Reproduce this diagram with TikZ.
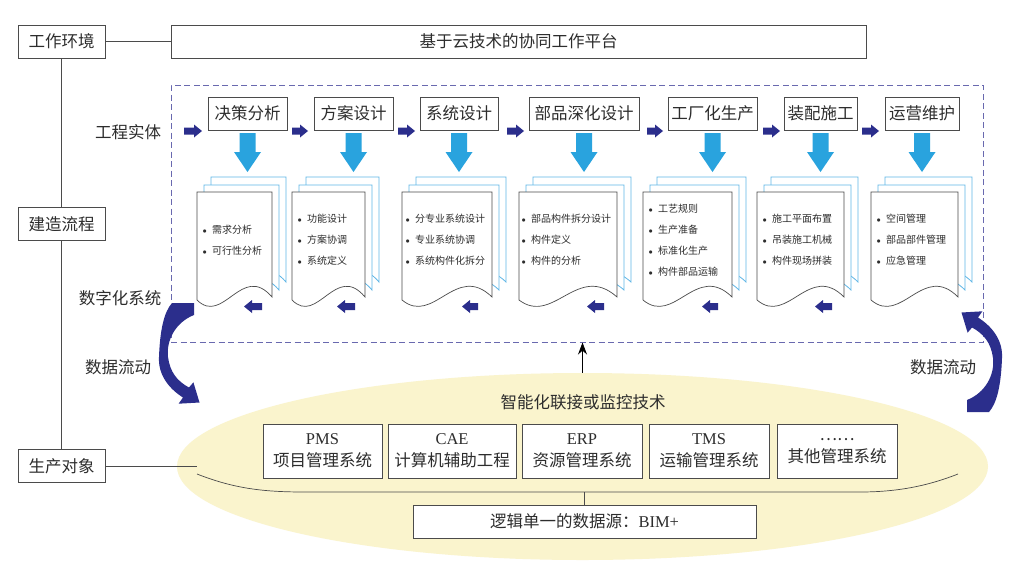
\documentclass[tikz,border=0pt]{standalone}
\usepackage{fontspec}
\setmainfont{Liberation Serif}
\newfontfamily\cjk{Noto Sans CJK SC}
\usetikzlibrary{arrows.meta,shapes.geometric}
\definecolor{navy}{RGB}{43,46,140}
\definecolor{lblue}{RGB}{41,163,222}
\definecolor{pblue}{RGB}{95,182,230}
\definecolor{dashc}{RGB}{105,105,175}
\definecolor{ylw}{RGB}{250,244,205}
\definecolor{txt}{RGB}{45,45,45}
\definecolor{edge}{RGB}{75,75,75}
\newcommand{\mybul}{\makebox[11pt][l]{\hspace{1.5pt}{\fontsize{8}{8}\selectfont$\bullet$}}}
\newcommand{\mydoc}[2]{%
  \foreach \dx/\dy/\st in {14/-15/backpage, 7/-7/backpage, 0/0/frontpage}{%
    \path[\st, shift={(\dx,\dy)}] (#1,192) -- (#2,192) -- (#2,297)
      .. controls ({#1+0.6*(#2-#1)},262) and ({#1+0.35*(#2-#1)},326) .. (#1,300) -- cycle;
  }}
\newcommand{\myrarr}[2]{%
  \fill[navy] (#1,127.5) -- ({#2-8},127.5) -- ({#2-8},124.5) -- (#2,131) -- ({#2-8},137.5) -- ({#2-8},134.5) -- (#1,134.5) -- cycle;}
\newcommand{\mylarr}[2]{%
  \fill[navy] (#1,306.5) -- ({#1+8},300) -- ({#1+8},303) -- (#2,303) -- (#2,310) -- ({#1+8},310) -- ({#1+8},313) -- cycle;}
\newcommand{\mydarr}[1]{%
  \fill[lblue] ({#1-8},133) -- ({#1+8},133) -- ({#1+8},152) -- ({#1+13.5},152) -- (#1,172) -- ({#1-13.5},152) -- ({#1-8},152) -- cycle;}
\newcommand{\mycurv}{%
  \fill[navy] (172,303) -- (194,303) -- (194,315)
  .. controls (176,322) and (166,340) .. (168,357)
  .. controls (170,372) and (177,381) .. (189,387.5)
  -- (193.4,382.3) -- (199.5,402.5) -- (178.6,403.7) -- (183,397.5)
  .. controls (168,388) and (158,374) .. (159,357)
  .. controls (160,330) and (164,312) .. (172,303) -- cycle;}
\begin{document}
\begin{tikzpicture}[x=1pt,y=-1pt,
  every node/.style={text=txt},
  box/.style={draw=edge, line width=0.8pt, fill=white, minimum height=33pt, inner sep=0pt, font=\fontsize{16.5}{18}\selectfont\cjk},
  sysbox/.style={draw=edge, line width=0.8pt, fill=white, minimum height=54pt, inner sep=0pt, align=center, font=\fontsize{16.5}{22}\selectfont},
  lbl/.style={font=\fontsize{16.5}{18}\selectfont\cjk, inner sep=0pt},
  lst/.style={font=\fontsize{10}{21}\selectfont\cjk, align=left, inner sep=0pt, anchor=west},
  backpage/.style={draw=pblue, line width=0.8pt, fill=white},
  frontpage/.style={draw=edge, line width=0.7pt, fill=white},
  lnk/.style={draw=edge, line width=0.8pt},
]
\useasboundingbox[fill=white] (0,0) rectangle (1024,576);

% ellipse of production objects
\node[ellipse, fill=ylw, minimum width=811pt, minimum height=187pt, inner sep=0pt] (obj) at (582.5,466.5) {};

% left column
\draw[lnk] (61.5,41.5) -- (61.5,466);
\node[box, minimum width=87pt] (env) at (61.5,41.5) {工作环境};
\node[box, minimum width=695pt] (plat) at (518.5,41.5) {基于云技术的协同工作平台};
\draw[lnk] (env.east) -- (plat.west);
\node[box, minimum width=87pt] (build) at (61.5,224) {建造流程};
\node[box, minimum width=87pt] (prod) at (61.5,466) {生产对象};
\coordinate (pe) at (197,466);
\draw[lnk] (prod.east) -- (pe);

% dashed digital system frame
\node[draw=dashc, dash pattern=on 6pt off 3.5pt, line width=1pt, minimum width=812pt, minimum height=257pt, inner sep=0pt] (digi) at (577,213.5) {};

% stages
\node[box, minimum width=79pt] (s1) at (247.5,113.5) {决策分析};
\node[box, minimum width=79pt] (s2) at (353.5,113.5) {方案设计};
\node[box, minimum width=78pt] (s3) at (459,113.5) {系统设计};
\node[box, minimum width=110pt] (s4) at (584,113.5) {部品深化设计};
\node[box, minimum width=89pt] (s5) at (712.5,113.5) {工厂化生产};
\node[box, minimum width=73pt] (s6) at (820.5,113.5) {装配施工};
\node[box, minimum width=74pt] (s7) at (922,113.5) {运营维护};
\node[lbl] (eng) at (128,132) {工程实体};

\myrarr{184}{202}\myrarr{292}{308}\myrarr{398}{415}\myrarr{507}{524}
\myrarr{647}{663}\myrarr{763}{780}\myrarr{862}{879}

\mydarr{247.5}\mydarr{353.5}\mydarr{459}\mydarr{584}\mydarr{712.5}\mydarr{820.5}\mydarr{922}

% documents
\mydoc{197}{272}\mydoc{292}{365}\mydoc{402}{492}\mydoc{519}{617}
\mydoc{643}{732}\mydoc{757}{844}\mydoc{871}{958}

\node[lst] (d1) at (201,240) {\mybul 需求分析\\\mybul 可行性分析};
\node[lst] (d2) at (296,240) {\mybul 功能设计\\\mybul 方案协调\\\mybul 系统定义};
\node[lst] (d3) at (404,240) {\mybul 分专业系统设计\\\mybul 专业系统协调\\\mybul 系统构件化拆分};
\node[lst] (d4) at (520,240) {\mybul 部品构件拆分设计\\\mybul 构件定义\\\mybul 构件的分析};
\node[lst] (d5) at (647,240) {\mybul 工艺规则\\\mybul 生产准备\\\mybul 标准化生产\\\mybul 构件部品运输};
\node[lst] (d6) at (761,240) {\mybul 施工平面布置\\\mybul 吊装施工机械\\\mybul 构件现场拼装};
\node[lst] (d7) at (875,240) {\mybul 空间管理\\\mybul 部品部件管理\\\mybul 应急管理};

\mylarr{244}{262}\mylarr{337}{355}\mylarr{462}{478}\mylarr{587}{604}
\mylarr{702}{718}\mylarr{815}{832}

\node[lbl] (dig) at (120,298) {数字化系统};
\node[lbl] (flowL) at (118,367) {数据流动};
\node[lbl] (flowR) at (943,367) {数据流动};

% curved data flow arrows
\mycurv
\begin{scope}[rotate around={180:(580.5,357.5)}]
\mycurv
\end{scope}

% intelligent link
\draw[line width=0.8pt, -{Stealth[length=12pt,width=9pt]}] (obj.north) -- (obj.north |- digi.south);
\node[lbl] (tech) at (583,402) {智能化联接或监控技术};

% systems
\node[sysbox, minimum width=119pt] (pms) at (322.5,451) {PMS\\{\cjk 项目管理系统}};
\node[sysbox, minimum width=128pt] (cae) at (452,451) {CAE\\{\cjk 计算机辅助工程}};
\node[sysbox, minimum width=120pt] (erp) at (582,451) {ERP\\{\cjk 资源管理系统}};
\node[sysbox, minimum width=120pt] (tms) at (709,451) {TMS\\{\cjk 运输管理系统}};
\node[sysbox, minimum width=120pt] (oth) at (837,451) {{\cjk ……}\\{\cjk 其他管理系统}};

\coordinate (arcL) at (197,474);
\coordinate (arcR) at (958,474);
\coordinate (bus) at (583,492);
\draw[lnk, line width=0.7pt] (arcL) .. controls (235,489) and (265,492) .. (305,492) -- (860,492) .. controls (900,492) and (930,485) .. (arcR);
\node[box, minimum width=343pt] (bim) at (584.5,521.5) {逻辑单一的数据源：{\rmfamily BIM+}};
\draw[lnk] (bim.north |- bus) -- (bim.north);
\end{tikzpicture}
\end{document}
